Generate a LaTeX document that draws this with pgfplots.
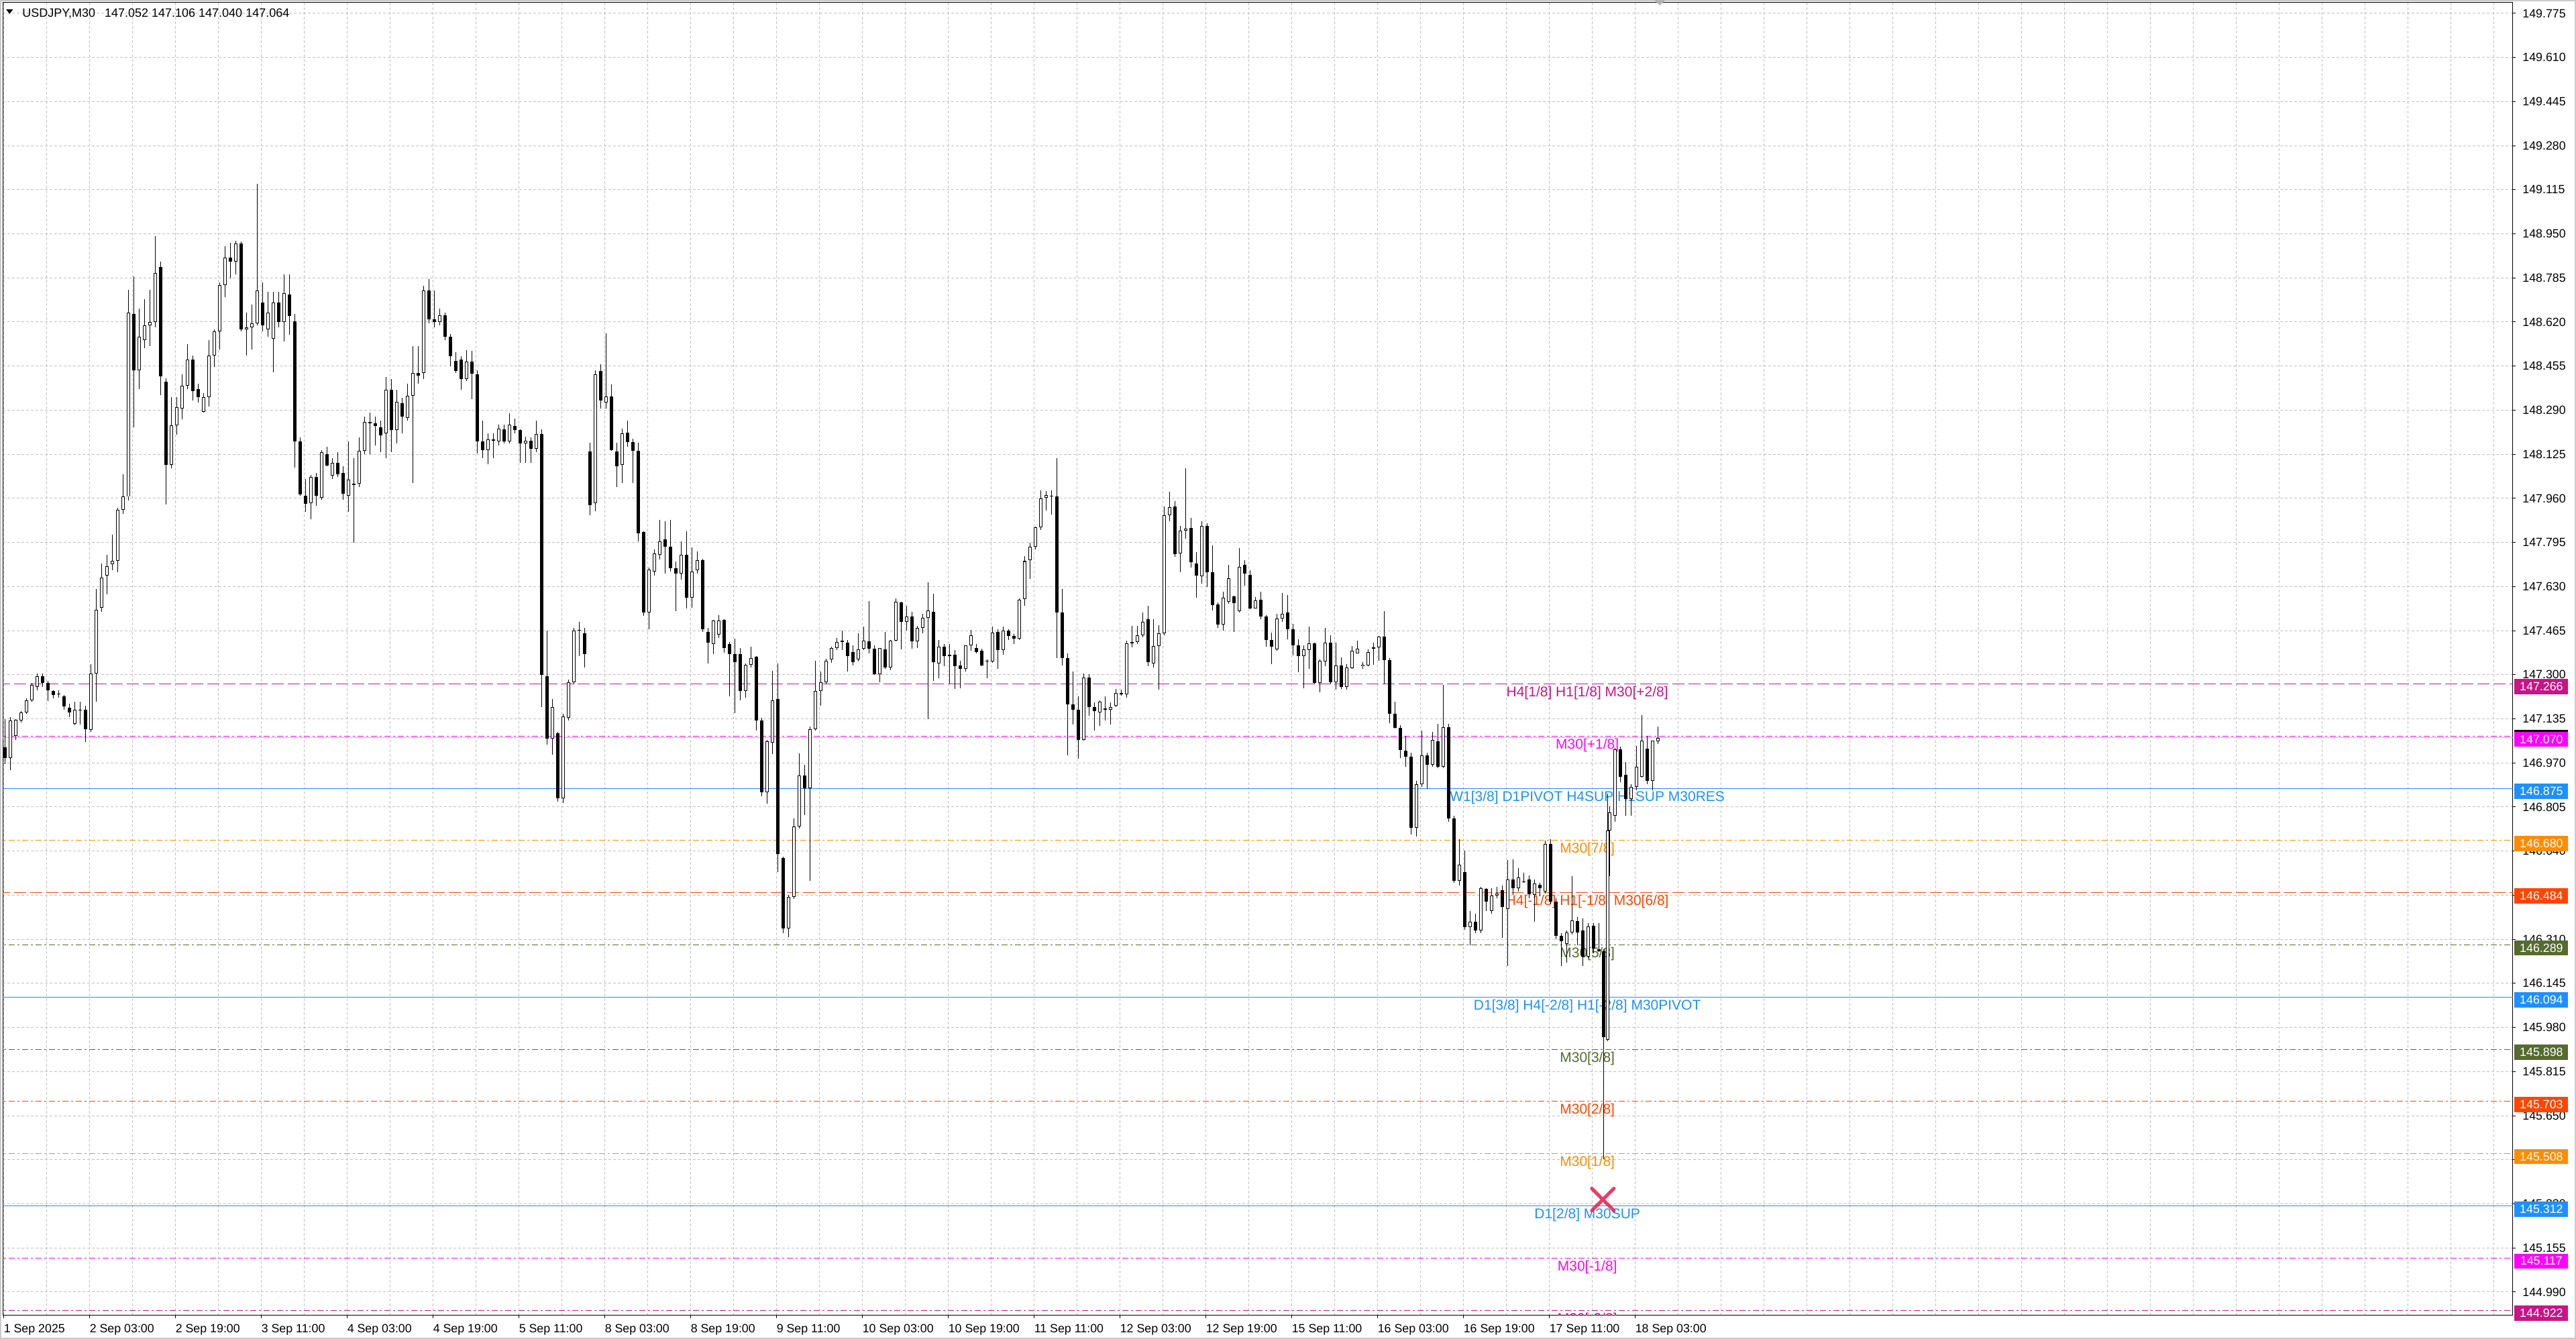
\documentclass[border=0pt]{standalone}
\usepackage{pgfplots}
\pgfplotsset{compat=1.18}
\usepackage{pgfplotstable}
\usepackage{fontspec}
\setmainfont{Liberation Sans}

\definecolor{mvred}{RGB}{199,21,133}
\definecolor{magent}{RGB}{255,0,255}
\definecolor{dodger}{RGB}{30,144,255}
\definecolor{dorange}{RGB}{255,140,0}
\definecolor{oranred}{RGB}{255,69,0}
\definecolor{dolive}{RGB}{85,107,47}
\definecolor{gridgray}{RGB}{192,192,192}
\definecolor{crossred}{RGB}{228,44,88}

\newcommand{\tickfont}{\fontsize{8.9pt}{10pt}\selectfont}
\newcommand{\lvlfont}{\fontsize{10.5pt}{12pt}\selectfont}

\tikzset{
  dashln/.style={line width=0.5pt, dash pattern=on 9pt off 3pt},
  ddotln/.style={line width=0.5pt, dash pattern=on 4.5pt off 2pt on 1.5pt off 2pt},
  solidln/.style={line width=0.5pt},
  lvl/.style={font=\lvlfont, anchor=base, inner sep=0pt, yshift=-9.5pt},
  pricebox/.style={fill=#1, text=white, font=\tickfont, inner sep=0pt,
    minimum width=40pt, minimum height=11.35pt, anchor=west},
}

% USDJPY M30, read as hourly candles; i = first bar of the hour (2 Sep 03:00 = 0)
% the two bars of the 17 Sep spike are kept apart
\pgfplotstableread{
i o h l c
-32 147.029 147.135 146.966 146.987
-30 146.987 147.142 146.942 147.128
-28 147.072 147.135 147.057 147.131
-26 147.128 147.163 147.121 147.159
-24 147.159 147.212 147.153 147.205
-22 147.205 147.269 147.198 147.262
-20 147.255 147.304 147.241 147.294
-18 147.294 147.304 147.255 147.269
-16 147.269 147.276 147.201 147.241
-14 147.238 147.243 147.212 147.224
-12 147.227 147.241 147.215 147.229
-10 147.219 147.224 147.170 147.181
-8 147.177 147.191 147.142 147.159
-6 147.117 147.198 147.111 147.170
-4 147.170 147.198 147.114 147.167
-2 147.170 147.184 147.048 147.097
0 147.093 147.339 147.086 147.304
2 147.304 147.621 147.198 147.544
4 147.551 147.717 147.536 147.663
6 147.670 147.748 147.600 147.706
8 147.713 147.825 147.691 147.727
10 147.727 147.924 147.684 147.917
12 147.917 148.051 147.903 147.966
14 147.966 148.741 147.952 148.656
16 148.649 148.790 148.227 148.438
18 148.438 148.671 148.368 148.565
20 148.551 148.706 148.523 148.607
22 148.607 148.741 148.530 148.621
24 148.621 148.942 148.600 148.804
26 148.826 148.847 148.347 148.417
28 148.396 148.410 147.938 148.086
30 148.086 148.339 148.072 148.234
32 148.234 148.339 148.199 148.300
34 148.297 148.424 148.255 148.382
36 148.382 148.537 148.368 148.480
38 148.480 148.494 148.325 148.361
40 148.368 148.389 148.318 148.339
42 148.283 148.354 148.280 148.339
44 148.339 148.551 148.304 148.494
46 148.494 148.593 148.452 148.586
48 148.586 148.769 148.516 148.759
50 148.759 148.903 148.713 148.861
52 148.861 148.917 148.783 148.847
54 148.847 148.924 148.797 148.914
56 148.914 148.920 148.586 148.593
58 148.593 148.656 148.494 148.600
60 148.600 148.685 148.516 148.614
62 148.614 149.137 148.607 148.737
64 148.692 148.769 148.586 148.607
66 148.593 148.734 148.565 148.656
68 148.558 148.734 148.431 148.694
70 148.694 148.734 148.600 148.621
72 148.620 148.797 148.548 148.729
74 148.724 148.797 148.573 148.642
76 148.623 148.651 148.076 148.173
78 148.173 148.188 147.971 147.974
80 147.971 148.033 147.909 147.940
82 147.943 148.048 147.881 148.041
84 148.041 148.056 147.932 147.971
86 147.963 148.141 147.955 148.134
88 148.126 148.154 148.079 148.082
90 148.045 148.111 148.033 148.092
92 148.092 148.134 148.041 148.051
94 148.056 148.079 147.955 147.978
96 147.971 148.173 147.909 148.030
98 148.014 148.111 147.795 148.009
100 148.014 148.188 148.002 148.137
102 148.137 148.266 148.126 148.246
104 148.246 148.281 148.126 148.242
106 148.242 148.266 148.157 148.232
108 148.227 148.250 148.134 148.196
110 148.204 148.413 148.111 148.367
112 148.367 148.406 148.134 148.216
114 148.216 148.367 148.165 148.320
116 148.315 148.336 148.204 148.266
118 148.260 148.390 148.250 148.343
120 148.343 148.530 148.017 148.429
122 148.430 148.530 148.390 148.418
124 148.429 148.755 148.406 148.739
126 148.739 148.781 148.615 148.631
128 148.631 148.739 148.600 148.620
130 148.620 148.670 148.607 148.646
132 148.646 148.654 148.553 148.564
134 148.564 148.576 148.455 148.491
136 148.474 148.506 148.429 148.437
138 148.480 148.491 148.367 148.406
140 148.406 148.514 148.398 148.471
142 148.471 148.511 148.331 148.426
144 148.424 148.440 148.129 148.173
146 148.173 148.250 148.111 148.141
148 148.141 148.204 148.087 148.180
150 148.180 148.204 148.111 148.176
152 148.173 148.235 148.157 148.222
154 148.219 148.235 148.165 148.173
156 148.173 148.278 148.165 148.235
158 148.232 148.258 148.204 148.216
160 148.216 148.219 148.092 148.165
162 148.165 148.191 148.092 148.176
164 148.176 148.188 148.092 148.145
166 148.145 148.250 148.134 148.200
168 148.200 148.219 147.179 147.300
170 147.295 147.466 147.039 147.062
172 147.062 147.210 147.000 147.179
174 147.082 147.085 146.825 146.837
176 146.837 147.153 146.821 147.145
178 147.138 147.281 147.130 147.273
180 147.273 147.476 147.265 147.464
182 147.464 147.499 147.371 147.464
184 147.454 147.476 147.326 147.378
186 148.135 148.169 147.898 147.935
188 147.943 148.439 147.913 148.424
190 148.436 148.462 148.296 148.327
192 148.319 148.578 148.296 148.342
194 148.342 148.387 148.138 148.141
196 148.135 148.169 148.003 148.081
198 148.086 148.221 148.018 148.202
200 148.206 148.251 148.153 148.171
202 148.171 148.184 148.018 148.138
204 148.138 148.169 147.800 147.830
206 147.834 147.837 147.521 147.533
208 147.533 147.702 147.469 147.694
210 147.687 147.770 147.672 147.755
212 147.750 147.880 147.732 147.800
214 147.807 147.875 147.679 147.780
216 147.780 147.880 147.687 147.699
218 147.699 147.724 147.539 147.679
220 147.679 147.800 147.657 147.750
222 147.750 147.837 147.548 147.589
224 147.589 147.777 147.551 147.687
226 147.690 147.762 147.679 147.729
228 147.729 147.735 147.461 147.469
230 147.461 147.476 147.341 147.419
232 147.416 147.506 147.378 147.503
234 147.449 147.524 147.438 147.503
236 147.506 147.509 147.383 147.401
238 147.416 147.423 147.220 147.377
240 147.377 147.434 147.157 147.348
242 147.377 147.401 147.205 147.238
244 147.238 147.341 147.213 147.338
246 147.338 147.404 147.326 147.363
248 147.368 147.371 147.092 147.130
250 147.130 147.138 146.844 146.859
252 146.859 147.055 146.817 147.052
254 147.047 147.314 147.002 147.205
256 147.208 147.341 146.561 146.630
258 146.615 146.618 146.332 146.350
260 146.350 146.475 146.317 146.468
262 146.468 146.761 146.460 146.731
264 146.731 147.007 146.724 146.922
266 146.922 146.964 146.776 146.874
268 146.874 147.107 146.528 147.097
270 147.097 147.353 147.092 147.238
272 147.238 147.311 147.183 147.273
274 147.273 147.360 147.265 147.353
276 147.356 147.404 147.344 147.401
278 147.401 147.438 147.393 147.423
280 147.428 147.464 147.393 147.423
282 147.420 147.430 147.313 147.371
284 147.386 147.411 147.335 147.347
286 147.356 147.456 147.350 147.395
288 147.398 147.479 147.393 147.428
290 147.425 147.575 147.380 147.398
292 147.398 147.411 147.299 147.302
294 147.302 147.401 147.272 147.401
296 147.395 147.461 147.322 147.326
298 147.326 147.429 147.317 147.428
300 147.428 147.586 147.425 147.573
302 147.571 147.573 147.395 147.499
304 147.499 147.559 147.465 147.519
306 147.519 147.535 147.398 147.425
308 147.425 147.483 147.401 147.476
310 147.476 147.528 147.456 147.514
312 147.512 147.646 147.135 147.541
314 147.535 147.604 147.277 147.347
316 147.341 147.429 147.286 147.404
318 147.404 147.416 147.331 147.371
320 147.371 147.416 147.268 147.375
322 147.375 147.393 147.248 147.332
324 147.335 147.353 147.250 147.323
326 147.323 147.411 147.313 147.409
328 147.409 147.467 147.389 147.447
330 147.401 147.416 147.380 147.386
332 147.389 147.398 147.331 147.335
334 147.349 147.358 147.286 147.350
336 147.350 147.481 147.344 147.458
338 147.461 147.470 147.322 147.393
340 147.393 147.481 147.375 147.465
342 147.465 147.470 147.429 147.445
344 147.445 147.452 147.416 147.434
346 147.434 147.586 147.429 147.580
348 147.582 147.745 147.559 147.725
350 147.730 147.795 147.658 147.779
352 147.779 147.855 147.770 147.851
354 147.851 147.990 147.842 147.960
356 147.963 147.987 147.914 147.972
358 147.969 147.990 147.900 147.967
360 147.967 148.111 147.362 147.532
362 147.532 147.622 147.335 147.362
364 147.362 147.380 146.997 147.189
366 147.189 147.313 147.114 147.169
368 147.169 147.219 146.985 147.057
370 147.057 147.304 147.053 147.290
372 147.290 147.302 147.147 147.178
374 147.178 147.196 147.090 147.165
376 147.160 147.203 147.108 147.198
378 147.174 147.219 147.129 147.169
380 147.169 147.196 147.114 147.180
382 147.183 147.246 147.178 147.232
384 147.227 147.243 147.222 147.231
386 147.227 147.428 147.214 147.417
388 147.417 147.482 147.402 147.422
390 147.422 147.482 147.415 147.447
392 147.448 147.532 147.440 147.499
394 147.507 147.557 147.331 147.348
396 147.341 147.507 147.327 147.407
398 147.408 147.486 147.243 147.455
400 147.455 147.930 147.448 147.896
402 147.896 147.984 147.875 147.926
404 147.930 147.949 147.741 147.751
406 147.754 147.857 147.684 147.838
408 147.838 148.072 147.808 147.846
410 147.850 147.888 147.700 147.720
412 147.716 147.758 147.587 147.670
414 147.668 147.874 147.641 147.857
416 147.857 147.867 147.628 147.684
418 147.684 147.783 147.541 147.561
420 147.564 147.570 147.474 147.489
422 147.489 147.612 147.464 147.587
424 147.572 147.712 147.566 147.662
426 147.592 147.595 147.461 147.567
428 147.539 147.773 147.532 147.704
430 147.712 147.729 147.633 147.679
432 147.674 147.691 147.545 147.549
434 147.549 147.591 147.547 147.578
436 147.581 147.612 147.507 147.517
438 147.517 147.524 147.405 147.430
440 147.430 147.457 147.340 147.405
442 147.394 147.528 147.390 147.511
444 147.511 147.606 147.499 147.528
446 147.532 147.599 147.432 147.469
448 147.469 147.490 147.373 147.411
450 147.411 147.432 147.310 147.369
452 147.369 147.411 147.249 147.394
454 147.392 147.480 147.323 147.417
456 147.417 147.419 147.264 147.269
458 147.269 147.356 147.235 147.352
460 147.350 147.474 147.331 147.419
462 147.419 147.448 147.264 147.273
464 147.273 147.419 147.243 147.335
466 147.335 147.365 147.248 147.254
468 147.254 147.340 147.243 147.327
470 147.325 147.407 147.321 147.390
472 147.381 147.428 147.380 147.397
474 147.331 147.348 147.323 147.338
476 147.335 147.394 147.331 147.386
478 147.397 147.419 147.338 147.402
480 147.402 147.444 147.352 147.442
482 147.442 147.539 147.264 147.355
484 147.355 147.361 147.118 147.154
486 147.154 147.199 147.098 147.102
488 147.102 147.110 146.988 147.019
490 147.015 147.071 146.956 146.992
492 146.992 147.009 146.701 146.727
494 146.727 146.903 146.695 146.891
496 146.891 147.092 146.879 146.998
498 146.998 147.009 146.873 146.964
500 146.964 147.086 146.956 147.057
502 147.051 147.116 146.950 146.956
504 146.956 147.261 146.950 147.104
506 147.104 147.116 146.749 146.761
508 146.761 146.772 146.521 146.530
510 146.530 146.684 146.512 146.589
512 146.562 146.642 146.346 146.355
514 146.355 146.417 146.287 146.375
516 146.375 146.405 146.334 146.344
518 146.344 146.506 146.334 146.500
520 146.498 146.502 146.417 146.452
522 146.417 146.502 146.405 146.474
524 146.474 146.506 146.464 146.482
526 146.494 146.512 146.316 146.431
528 146.423 146.607 146.210 146.535
530 146.535 146.609 146.476 146.500
532 146.500 146.577 146.488 146.541
534 146.526 146.559 146.521 146.524
536 146.535 146.550 146.464 146.479
538 146.476 146.535 146.375 146.518
540 146.514 146.521 146.470 146.502
542 146.488 146.680 146.482 146.668
544 146.668 146.684 146.441 146.452
546 146.452 146.464 146.310 146.322
548 146.322 146.334 146.210 146.304
550 146.293 146.344 146.222 146.336
552 146.336 146.547 146.328 146.381
554 146.379 146.393 146.287 146.336
556 146.344 146.387 146.210 146.245
558 146.245 146.370 146.239 146.358
560 146.360 146.370 146.257 146.275
562 146.272 146.370 146.263 146.265
563.75 146.265 146.272 145.486 145.943
565.25 145.935 146.855 145.930 146.716
566 146.716 146.808 146.547 146.784
568 146.772 147.027 146.749 147.021
570 147.021 147.030 146.897 146.917
572 146.926 146.974 146.772 146.834
574 146.834 146.891 146.772 146.881
576 146.881 147.033 146.867 146.956
578 146.917 147.148 146.915 147.054
580 147.024 147.071 146.891 146.903
582 146.903 146.986 146.867 147.054
584 147.052 147.106 147.040 147.064
}\candles

\begin{document}
\begin{tikzpicture}
\path[use as bounding box] (-2pt,-17.5pt) rectangle (1918pt,980.5pt);
\fill[white] (-2pt,-17.5pt) rectangle (1918pt,980.5pt);
\draw[gray!40, line width=1pt] (-1.5pt,-17pt) rectangle (1917.5pt,980pt);

\begin{axis}[
  at={(0pt,0pt)}, anchor=south west,
  scale only axis, width=1871pt, height=978.5pt,
  xmin=-32.35, xmax=903.15, ymin=144.902, ymax=149.815,
  scaled ticks=false,
  axis line style={black, line width=0.5pt},
  tick align=outside, major tick length=2pt, minor tick length=0pt,
  tick style={black, line width=0.5pt},
  xtick pos=left, ytick pos=right, yticklabel pos=right,
  xtick={-32,0,32,...,576},
  xticklabels={1 Sep 2025,2 Sep 03:00,2 Sep 19:00,3 Sep 11:00,4 Sep 03:00,4 Sep 19:00,5 Sep 11:00,8 Sep 03:00,8 Sep 19:00,9 Sep 11:00,10 Sep 03:00,10 Sep 19:00,11 Sep 11:00,12 Sep 03:00,12 Sep 19:00,15 Sep 11:00,16 Sep 03:00,16 Sep 19:00,17 Sep 11:00,18 Sep 03:00},
  minor xtick={-16,16,48,80,112,144,176,208,240,272,304,336,368,400,432,464,496,528,560,592,624,656,688,720,752,784,816,848,880,608,640,672,704,736,768,800,832,864,896},
  ytick={149.775,149.610,149.445,149.280,149.115,148.950,148.785,148.620,148.455,148.290,148.125,147.960,147.795,147.630,147.465,147.300,147.135,146.970,146.805,146.640,146.475,146.310,146.145,145.980,145.815,145.650,145.485,145.320,145.155,144.990},
  yticklabels={149.775,149.610,149.445,149.280,149.115,148.950,148.785,148.620,148.455,148.290,148.125,147.960,147.795,147.630,147.465,147.300,147.135,146.970,146.805,146.640,146.475,146.310,146.145,145.980,145.815,145.650,145.485,145.320,145.155,144.990},
  xmajorgrids, xminorgrids, ymajorgrids,
  grid style={gridgray, line width=0.5pt, dash pattern=on 2pt off 1.5pt},
  xticklabel style={font=\tickfont, anchor=north west, inner sep=0pt, yshift=-4.5pt},
  yticklabel style={font=\tickfont, anchor=west, inner sep=0pt, xshift=5pt},
  /pgf/number format/assume math mode=true,
]

% level lines
\addplot[mvred, dashln] coordinates {(-40,147.266) (910,147.266)};
\addplot[magent, ddotln] coordinates {(-40,147.070) (910,147.070)};
\addplot[dodger, solidln] coordinates {(-40,146.875) (910,146.875)};
\addplot[dorange, ddotln] coordinates {(-40,146.680) (910,146.680)};
\addplot[oranred, dashln] coordinates {(-40,146.484) (910,146.484)};
\addplot[dolive, ddotln] coordinates {(-40,146.289) (910,146.289)};
\addplot[dodger, solidln] coordinates {(-40,146.094) (910,146.094)};
\addplot[dolive, ddotln] coordinates {(-40,145.898) (910,145.898)};
\addplot[oranred, ddotln] coordinates {(-40,145.703) (910,145.703)};
\addplot[dorange, ddotln] coordinates {(-40,145.508) (910,145.508)};
\addplot[dodger, solidln] coordinates {(-40,145.312) (910,145.312)};
\addplot[magent, ddotln] coordinates {(-40,145.117) (910,145.117)};
\addplot[mvred, ddotln] coordinates {(-40,144.922) (910,144.922)};
% bid line
\addplot[gridgray, solidln] coordinates {(-40,147.064) (910,147.064)};

% level labels
\node[lvl, mvred] at (axis cs:558.2,147.266) {H4[1/8] H1[1/8] M30[+2/8]};
\node[lvl, magent] at (axis cs:558.2,147.070) {M30[+1/8]};
\node[lvl, dodger] at (axis cs:558.2,146.875) {W1[3/8] D1PIVOT H4SUP H1SUP M30RES};
\node[lvl, dorange] at (axis cs:558.2,146.680) {M30[7/8]};
\node[lvl, oranred] at (axis cs:558.2,146.484) {H4[-1/8] H1[-1/8] M30[6/8]};
\node[lvl, dolive] at (axis cs:558.2,146.289) {M30[5/8]};
\node[lvl, dodger] at (axis cs:558.2,146.094) {D1[3/8] H4[-2/8] H1[-2/8] M30PIVOT};
\node[lvl, dolive] at (axis cs:558.2,145.898) {M30[3/8]};
\node[lvl, oranred] at (axis cs:558.2,145.703) {M30[2/8]};
\node[lvl, dorange] at (axis cs:558.2,145.508) {M30[1/8]};
\node[lvl, dodger] at (axis cs:558.2,145.312) {D1[2/8] M30SUP};
\node[lvl, magent] at (axis cs:558.2,145.117) {M30[-1/8]};
\node[lvl, mvred] at (axis cs:558.2,144.922) {M30[-2/8]};

% candles: wicks, bodies, hollow inside of up candles
\addplot[forget plot, draw=none, mark=none,
  error bars/.cd, y dir=plus, y explicit, error mark=none,
  error bar style={draw=black, solid, line width=0.5pt}]
  table[x expr=\thisrow{i}+0.5, y=l, y error expr=\thisrow{h}-\thisrow{l}] {\candles};
\addplot[forget plot, draw=none, mark=none,
  error bars/.cd, y dir=plus, y explicit, error mark=none,
  error bar style={draw=black, solid, line width=2.6pt}]
  table[x expr=\thisrow{i}+0.5, y expr={min(\thisrow{o},\thisrow{c})},
        y error expr={max(abs(\thisrow{c}-\thisrow{o}),0.0025)}] {\candles};
\addplot[forget plot, draw=none, mark=none,
  error bars/.cd, y dir=plus, y explicit, error mark=none,
  error bar style={draw=white, solid, line width=1.6pt}]
  table[x expr=\thisrow{i}+0.5, y expr={\thisrow{o}+0.0025},
        y error expr={max(\thisrow{c}-\thisrow{o}-0.005,0)}] {\candles};

% cross marker
\addplot[only marks, mark=x, mark size=11.75pt,
  mark options={draw=crossred, line width=2.5pt, line cap=round, opacity=0.9}]
  coordinates {(564,145.336)};

% anchors for the price boxes
\coordinate (q1) at (axis cs:903.15,147.266);
\coordinate (q2) at (axis cs:903.15,147.070);
\coordinate (q3) at (axis cs:903.15,146.875);
\coordinate (q4) at (axis cs:903.15,146.680);
\coordinate (q5) at (axis cs:903.15,146.484);
\coordinate (q6) at (axis cs:903.15,146.289);
\coordinate (q7) at (axis cs:903.15,146.094);
\coordinate (q8) at (axis cs:903.15,145.898);
\coordinate (q9) at (axis cs:903.15,145.703);
\coordinate (q10) at (axis cs:903.15,145.508);
\coordinate (q11) at (axis cs:903.15,145.312);
\coordinate (q12) at (axis cs:903.15,145.117);
\coordinate (q13) at (axis cs:903.15,144.922);
\coordinate (qb) at (axis cs:903.15,147.064);
\end{axis}

% price boxes on the right scale
\node[pricebox=black] at ([xshift=1pt,yshift=0.3pt]qb) {};
\node[pricebox=mvred] at ([xshift=1pt,yshift=-2.25pt]q1) {147.266};
\node[pricebox=magent] at ([xshift=1pt,yshift=-2.25pt]q2) {147.070};
\node[pricebox=dodger] at ([xshift=1pt,yshift=-2.25pt]q3) {146.875};
\node[pricebox=dorange] at ([xshift=1pt,yshift=-2.25pt]q4) {146.680};
\node[pricebox=oranred] at ([xshift=1pt,yshift=-2.25pt]q5) {146.484};
\node[pricebox=dolive] at ([xshift=1pt,yshift=-2.25pt]q6) {146.289};
\node[pricebox=dodger] at ([xshift=1pt,yshift=-2.25pt]q7) {146.094};
\node[pricebox=dolive] at ([xshift=1pt,yshift=-2.25pt]q8) {145.898};
\node[pricebox=oranred] at ([xshift=1pt,yshift=-2.25pt]q9) {145.703};
\node[pricebox=dorange] at ([xshift=1pt,yshift=-2.25pt]q10) {145.508};
\node[pricebox=dodger] at ([xshift=1pt,yshift=-2.25pt]q11) {145.312};
\node[pricebox=magent] at ([xshift=1pt,yshift=-2.25pt]q12) {145.117};
\node[pricebox=mvred] at ([xshift=1pt,yshift=-2.25pt]q13) {144.922};

% chart title and shift marker
\fill[black] (2.6pt,973.5pt) -- (7.7pt,973.5pt) -- (5.15pt,970.15pt) -- cycle;
\node[anchor=base west, inner sep=0pt, font=\fontsize{9pt}{10pt}\selectfont]
  at (14.5pt,967.5pt) {USDJPY,M30\hspace{7pt}147.052 147.106 147.040 147.064};
\fill[gray!60] (1231pt,980.5pt) -- (1239pt,980.5pt) -- (1235pt,976.5pt) -- cycle;
\end{tikzpicture}
\end{document}
